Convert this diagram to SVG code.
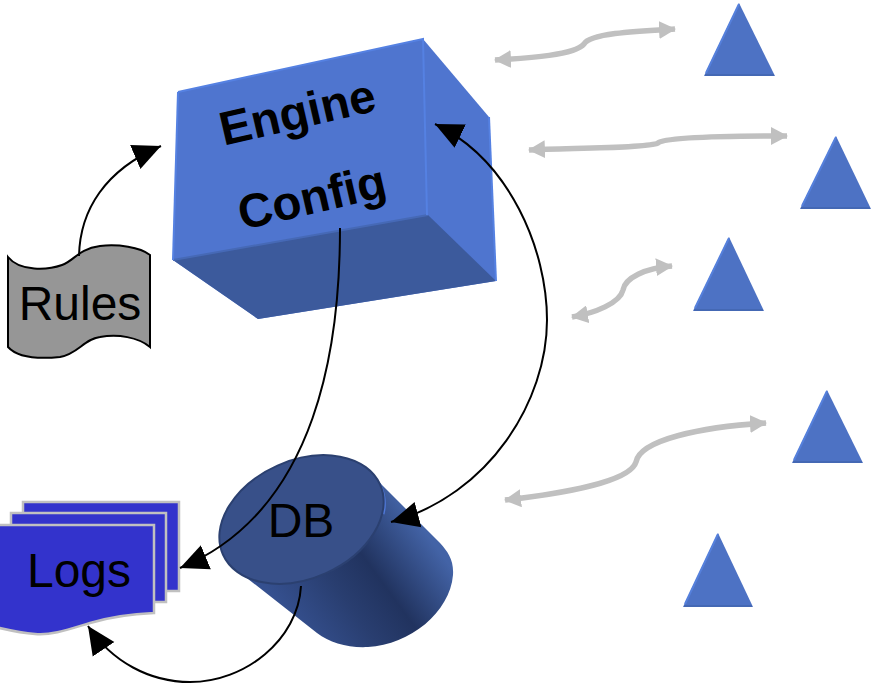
<svg xmlns="http://www.w3.org/2000/svg" width="876" height="683" viewBox="0 0 876 683">
<defs>
<linearGradient id="cyl" gradientUnits="userSpaceOnUse" x1="420" y1="525" x2="290" y2="620">
<stop offset="0" stop-color="#4363a6"/><stop offset="0.4" stop-color="#21335f"/><stop offset="0.65" stop-color="#293e70"/><stop offset="1" stop-color="#35508f"/>
</linearGradient>
<marker id="ah" markerUnits="userSpaceOnUse" markerWidth="30" markerHeight="28" refX="28" refY="14" orient="auto-start-reverse"><path d="M0 1L28 14L0 27Z" fill="#000"/></marker>
<marker id="gh" markerUnits="userSpaceOnUse" markerWidth="18" markerHeight="18" refX="16" refY="9" orient="auto-start-reverse"><path d="M0 0L17 9L0 18Z" fill="#c0c0c0"/></marker>
</defs>
<style>
text{font-family:"Liberation Sans",Arial,sans-serif;fill:#000}
.lbl{font-size:48px;text-anchor:middle}
.bold{font-size:47.5px;font-weight:700;text-anchor:middle}
.tri{fill:#4d72c4}
.triB{fill:none;stroke:#4468b4;stroke-width:2}
.triH{fill:none;stroke:#5580dc;stroke-width:2}
.g{fill:none;stroke:#c0c0c0;stroke-width:5.5;marker-start:url(#gh);marker-end:url(#gh)}
.k{fill:none;stroke:#000;stroke-width:2}
.page{fill:#3333cc;stroke:#c0c0c0;stroke-width:2.5}
</style>
<rect width="876" height="683" fill="#fff"/>
<g id="engine">
<path d="M178 92L423 39L489 117L496 281L258 319L173 260Z" fill="#4f75cf"/>
<path d="M173 260L428 215L496 281L258 319Z" fill="#3c5a9c"/>
<path d="M173 260L428 215" stroke="#4669b6" stroke-width="2" fill="none"/>
<path d="M178 92L423 39L427 215" stroke="#5581e2" stroke-width="2" fill="none"/>
<path d="M178 92L173 260" stroke="#5581e2" stroke-width="2" fill="none"/>
<path d="M489 117L496 281" stroke="#5581e2" stroke-width="2" fill="none"/>
<text class="bold" transform="translate(301 128) rotate(-13)">Engine</text>
<text class="bold" transform="translate(315.500 213) rotate(-13)">Config</text>
</g>
<g id="rules">
<path d="M8 257C20 272 48 270 62 265C74 261 78 249 100 246C118 244 140 247 150 255V347C138 337 118 334 100 337C84 339 78 354 60 357C40 359 18 358 8 347Z" fill="#969696" stroke="#000" stroke-width="2"/>
<text class="lbl" x="80" y="320">Rules</text>
</g>
<g id="logs">
<path class="page" d="M23 502H179V591H23Z"/>
<path class="page" d="M11 513H166V602H11Z"/>
<path class="page" d="M-5 525H154V613C130 614 110 617 90 623C70 629 50 636 35 634C20 633 8 630 -5 627Z"/>
<text class="lbl" x="79" y="587">Logs</text>
</g>
<g id="db">
<path d="M243 575L317 633C330 643 348 648 368 647C410 645 450 612 453 575C454 560 448 552 440 543L377 480Z" fill="url(#cyl)"/>
<path d="M377 481C384 490 386 503 383 514" fill="none" stroke="#4f78d8" stroke-width="3"/>
<ellipse cx="301.5" cy="519.5" rx="86" ry="59" transform="rotate(-24 301.5 519.5)" fill="#385089" stroke="#2b4070" stroke-width="2"/>
<text class="lbl" x="301" y="537">DB</text>
</g>
<g id="triangles">
<g id="t1"><path class="tri" d="M739 3L775 76H704Z"/><path class="triB" d="M705 75H774"/><path class="triH" d="M739 4L706 73"/></g>
<g id="t2"><path class="tri" d="M836 136L871 209H800Z"/><path class="triB" d="M801 208H870"/><path class="triH" d="M836 137L802 206"/></g>
<g id="t3"><path class="tri" d="M729 237L764 311H693Z"/><path class="triB" d="M694 310H763"/><path class="triH" d="M729 238L695 308"/></g>
<g id="t4"><path class="tri" d="M827 390L863 463H792Z"/><path class="triB" d="M793 462H862"/><path class="triH" d="M827 391L794 460"/></g>
<g id="t5"><path class="tri" d="M718 533L753 607H683Z"/><path class="triB" d="M684 606H752"/><path class="triH" d="M718 534L685 604"/></g>
</g>
<g id="connectors">
<path class="k" d="M79 256C80 210 105 170 161 146" marker-end="url(#ah)"/>
<path class="k" d="M340 228C340 340 320 510 180 568" marker-end="url(#ah)"/>
<path class="k" d="M435 124C510 160 547 250 547 320C547 400 490 495 391 522" marker-start="url(#ah)" marker-end="url(#ah)"/>
<path class="k" d="M301 586C298 640 245 682 190 682C150 682 112 662 88 626" marker-end="url(#ah)"/>
<path class="g" d="M495 60C530 58 575 55 584 44C590 33 640 31 675 29"/>
<path class="g" d="M529 150C570 148 650 148 658 143C665 137 740 136 787 136"/>
<path class="g" d="M572 317C595 313 620 303 623 290C625 278 645 268 672 266"/>
<path class="g" d="M505 500C560 494 630 482 636 462C640 440 700 427 766 423"/>
</g>
</svg>
